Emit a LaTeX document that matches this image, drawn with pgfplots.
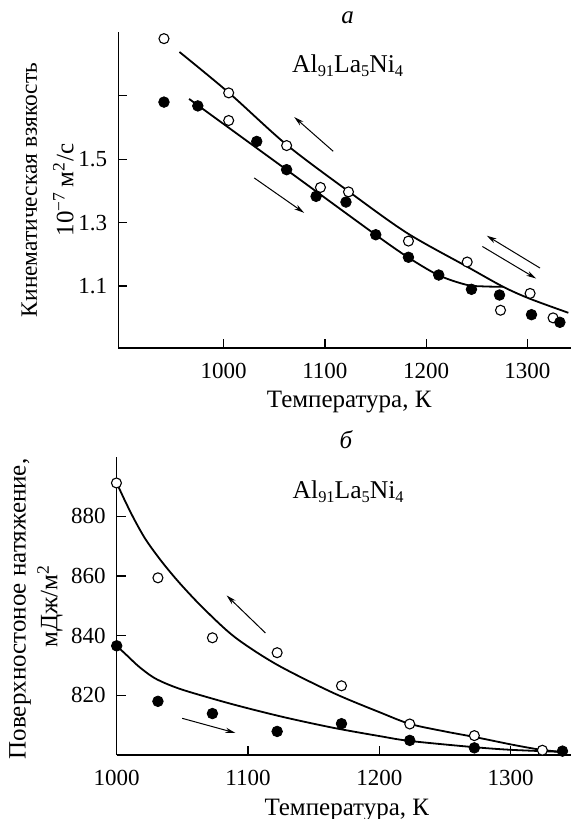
\documentclass[border=0pt]{standalone}
\usepackage{fontspec}
\setmainfont{Liberation Serif}
\usepackage{pgfplots}
\pgfplotsset{compat=1.18}
\usetikzlibrary{arrows.meta}

\newcommand\sub[1]{\raisebox{-0.35ex}{\fontsize{8.2}{9}\selectfont #1}}
\newcommand\alloy{Al\sub{91}La\sub{5}Ni\sub{4}}
\newcommand\lbl{\fontsize{12.5}{14}\selectfont}

\tikzset{arr/.style={-{Stealth[length=5pt,width=2.6pt]}, line width=0.5pt}}

\pgfplotsset{
  panel/.style={
    scale only axis, anchor=south west,
    axis lines=left, axis line style={-, line width=0.65pt},
    tick align=inside, major tick length=4.5pt,
    tick style={line width=0.65pt, black},
    clip=false,
    /pgf/number format/assume math mode=true,
    /pgf/number format/1000 sep={},
    tick label style={font=\fontsize{11.5}{13}\selectfont},
    xticklabel style={yshift=-4.3pt},
    yticklabel style={xshift=-2pt},
    xtick={1000,1100,1200,1300},
  },
  fit/.style={black, line width=0.9pt, smooth, tension=0.5, no marks},
  open/.style={only marks, mark=*, mark size=2.5pt,
    mark options={fill=white, draw=black, line width=0.55pt}},
  full/.style={only marks, mark=*, mark size=2.65pt,
    mark options={fill=black, draw=black}},
}

\begin{document}
\begin{tikzpicture}
\path[use as bounding box] (0,0) rectangle (285.5pt,-409.5pt);

% --- а: кинематическая вязкость
\begin{axis}[panel, at={(59.15pt,-174pt)}, width=226.35pt, height=157.85pt,
  xmin=896, xmax=1343, ymin=0.905, ymax=1.9,
  ytick={1.1,1.3,1.5,1.7}, yticklabels={1.1,1.3,1.5,{}}]
\addplot[fit] table {
956.4 1.838
1005.7 1.708
1062.4 1.545
1123.2 1.399
1180.8 1.268
1240 1.162
1276 1.098
1302.6 1.060
1340.4 1.016
};
\addplot[fit] table {
965.9 1.690
1062 1.467
1150 1.262
1182.5 1.190
1212.4 1.134
1240 1.104
1258 1.099
1276 1.098
};
\addplot[open] table {
941.1 1.880
1005.0 1.709
1005.0 1.622
1062.2 1.543
1095.6 1.411
1123.3 1.397
1182.5 1.242
1240.5 1.176
1273.4 1.024
1302.6 1.077
1325.3 1.000
};
\addplot[full] table {
941.1 1.680
974.5 1.668
1032.7 1.556
1062.2 1.467
1091.3 1.383
1120.8 1.365
1150.2 1.262
1182.5 1.191
1212.4 1.135
1244.7 1.090
1272.4 1.072
1304.0 1.010
1332.0 0.986
};
\draw[arr] (axis cs:1108.2,1.525) -- (axis cs:1069.7,1.633);
\draw[arr] (axis cs:1030.2,1.441) -- (axis cs:1079.5,1.331);
\draw[arr] (axis cs:1312.4,1.157) -- (axis cs:1259.8,1.259);
\draw[arr] (axis cs:1255.5,1.225) -- (axis cs:1308.5,1.124);
\node[anchor=base, font=\fontsize{12.8}{14}\selectfont] at (axis cs:1122.5,1.773) {\alloy};
\end{axis}

% --- б: поверхностное натяжение
\begin{axis}[panel, at={(58.35pt,-377.5pt)}, width=227.15pt, height=149.15pt,
  xmin=1000, xmax=1346, ymin=800, ymax=900,
  ytick={820,840,860,880}]
\addplot[fit] table {
1000 891.2
1006 885.5
1013 879.3
1022 872.3
1034 865.0
1048 857.6
1066 849.2
1090 839.5
1122 830.3
1165 820.8
1201 814.2
1223.5 810.4
1250 807.9
1273 806.0
1302 803.4
1324 801.7
1343 800.9
};
\addplot[fit] table {
1000 836.6
1008 833.3
1017 829.6
1028 826.0
1040 823.5
1055 821.2
1089.2 816.9
1127.2 812.7
1165.2 809.1
1200.7 806.3
1223.5 804.7
1273 802.6
1302 801.7
1342 801.0
};
\addplot[open] table {
999.8 891.2
1031.4 859.4
1072.9 839.3
1122.2 834.3
1171.2 823.2
1223.2 810.4
1272.4 806.5
1324.2 801.6
};
\addplot[full] table {
1000 836.6
1031.4 818.0
1072.9 813.9
1122.2 807.9
1171.2 810.5
1223.2 804.9
1272.4 802.4
1339.5 801.3
};
\draw[arr] (axis cs:1113.3,840.9) -- (axis cs:1083.7,853.5);
\draw[arr] (axis cs:1049.9,812.3) -- (axis cs:1090.4,807.4);
\node[anchor=base, font=\fontsize{12.8}{14}\selectfont] at (axis cs:1176.3,885.9) {\alloy};
\end{axis}

% --- подписи
\node[anchor=base, font=\lbl\itshape] at (173.8pt,-11.7pt) {а};
\node[anchor=base, font=\lbl] at (174.6pt,-203.5pt) {Температура, К};
\node[rotate=90, font=\fontsize{11.7}{14}\selectfont] at (14.65pt,-95pt) {Кинематическая взякость};
\node[rotate=90, font=\lbl] at (31.65pt,-95pt) {10\textsuperscript{−7}\,м\textsuperscript{2}/с};

\node[anchor=base, font=\lbl\itshape] at (172.9pt,-224.2pt) {б};
\node[anchor=base, font=\lbl] at (173.4pt,-407.5pt) {Температура, К};
\node[rotate=90, font=\lbl] at (10pt,-304.5pt) {Поверхностоное натяжение,};
\node[rotate=90, font=\lbl] at (25pt,-303pt) {мДж/м\textsuperscript{2}};
\end{tikzpicture}
\end{document}
